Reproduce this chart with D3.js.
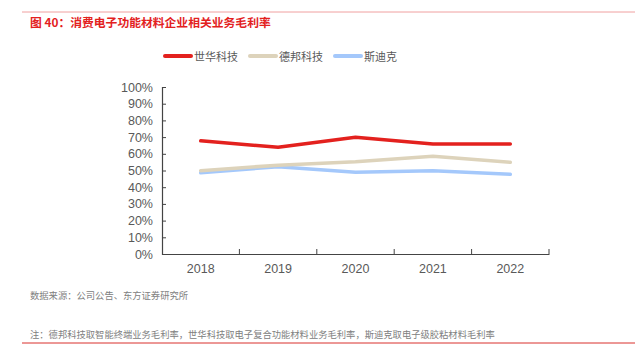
<!DOCTYPE html>
<html>
<head>
<meta charset="utf-8">
<script src="https://cdn.jsdelivr.net/npm/d3@7"></script>
<style>
  body { margin: 0; background: #fff; }
  svg { font-family: "Noto Sans CJK SC", "Liberation Sans", sans-serif; }
</style>
</head>
<body>
<script>
const years = ['2018', '2019', '2020', '2021', '2022']
const shihua = [67.8, 63.9, 69.9, 65.9, 65.9]
const debang = [49.9, 53.2, 55.3, 58.6, 54.9]
const sidike = [48.6, 52.3, 49.0, 49.9, 47.7]
const yTicks = [0, 10, 20, 30, 40, 50, 60, 70, 80, 90, 100]

const series = [
    {name: '世华科技', values: shihua, color: '#e3211e'},
    {name: '德邦科技', values: debang, color: '#ddd3bb'},
    {name: '斯迪克', values: sidike, color: '#a4c8fb'}
]

const width = 635
const height = 351
const margin = {"top": 87, "right": 86, "bottom": 97, "left": 162}

const svg = d3.select("body")
    .append("svg")
    .attr("width", width)
    .attr("height", height)

// frame lines
svg.append('line').attr('x1', 22).attr('x2', width).attr('y1', 12).attr('y2', 12)
    .attr('stroke', '#f0a0a0').attr('stroke-width', 1)
svg.append('line').attr('x1', 22).attr('x2', width).attr('y1', 343).attr('y2', 343)
    .attr('stroke', '#d9302c').attr('stroke-width', 1)

svg.append('text')
    .attr('x', 30).attr('y', 27)
    .attr('fill', '#e3211e')
    .attr('font-size', 11.8)
    .attr('font-weight', 'bold')
    .text('图 40：消费电子功能材料企业相关业务毛利率')

// scales
const xScale = d3.scaleBand()
    .domain(years)
    .range([margin.left, width - margin.right])

const yScale = d3.scaleLinear()
    .domain([0, 100])
    .range([height - margin.bottom, margin.top])

// axes
const xAxis = svg.append('g')
    .attr('transform', `translate(0, ${height - margin.bottom})`)
    .call(d3.axisBottom(xScale).tickSize(0).tickPadding(10))
xAxis.select('.domain').attr('stroke', '#444').attr('stroke-width', 1.2)
xAxis.selectAll('text').attr('font-size', 12.5).attr('fill', '#595959')
    .attr('font-family', '"Liberation Sans", sans-serif')
// band edge ticks
xAxis.selectAll('.edge')
    .data(years.map(d => xScale(d)).concat([xScale.range()[1]]).slice(1))
    .enter()
    .append('line')
    .attr('x1', d => d).attr('x2', d => d)
    .attr('y1', 0).attr('y2', -5)
    .attr('stroke', '#444')

const yAxis = svg.append('g')
    .attr('transform', `translate(${margin.left}, 0)`)
    .call(d3.axisLeft(yScale).tickValues(yTicks).tickSize(-4).tickPadding(9).tickFormat(d => d + '%'))
yAxis.select('.domain').attr('stroke', '#444').attr('stroke-width', 1.2)
yAxis.selectAll('.tick line').attr('stroke', '#444')
yAxis.selectAll('text').attr('font-size', 12.5).attr('fill', '#595959')
    .attr('font-family', '"Liberation Sans", sans-serif')

// lines
const line = d3.line()
    .x((d, i) => xScale(years[i]) + xScale.bandwidth() / 2)
    .y(d => yScale(d))

svg.append('g')
    .selectAll('path')
    .data(series.slice().reverse())
    .enter()
    .append('path')
    .attr('d', d => line(d.values))
    .attr('fill', 'none')
    .attr('stroke', d => d.color)
    .attr('stroke-width', 3.5)
    .attr('stroke-linecap', 'round')
    .attr('stroke-linejoin', 'round')

// legend
const legendX = [165, 250, 335]
const legend = svg.append('g')
    .selectAll('g')
    .data(series)
    .enter()
    .append('g')
    .attr('transform', (d, i) => `translate(${legendX[i]}, 56)`)
legend.append('line')
    .attr('x1', 0).attr('x2', 26)
    .attr('stroke', d => d.color)
    .attr('stroke-width', 4)
    .attr('stroke-linecap', 'round')
legend.append('text')
    .attr('x', 29).attr('y', 4.5)
    .attr('font-size', 11)
    .attr('fill', '#595959')
    .text(d => d.name)

// footnotes
svg.append('text')
    .attr('x', 30).attr('y', 299)
    .attr('font-size', 9.3)
    .attr('fill', '#808080')
    .text('数据来源：公司公告、东方证券研究所')
svg.append('text')
    .attr('x', 30).attr('y', 338)
    .attr('font-size', 9.3)
    .attr('fill', '#808080')
    .text('注：德邦科技取智能终端业务毛利率，世华科技取电子复合功能材料业务毛利率，斯迪克取电子级胶粘材料毛利率')
</script>
</body>
</html>
